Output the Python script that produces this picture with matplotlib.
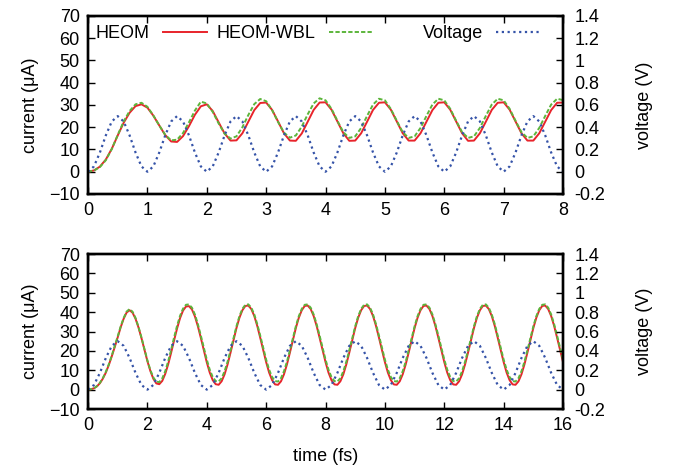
import numpy as np
import matplotlib
matplotlib.use("Agg")
import matplotlib.pyplot as plt
from matplotlib.lines import Line2D
from matplotlib.legend import Legend
from matplotlib.ticker import FuncFormatter

plt.rcParams['font.family'] = ['Liberation Sans', 'DejaVu Sans']
plt.rcParams['font.size'] = 13
FS = 13

# ---- upper panel: 0-8 fs, sampled every 0.1 fs ----
time_a = np.round(np.arange(81) * 0.1, 2)
heom_a = [0.0, 0.6, 2.3, 5.5, 10.3, 16.3, 22.0, 26.5, 29.5, 30.3,
          28.8, 25.2, 20.8, 16.5, 13.6, 13.4, 16.0, 20.5, 25.6, 29.4,
          30.3, 27.3, 22.2, 17.2, 14.0, 14.1, 17.3, 22.5, 27.7, 30.9,
          31.1, 27.8, 22.6, 17.3, 14.0, 13.9, 17.2, 22.5, 27.8, 31.1,
          31.2, 27.9, 22.6, 17.3, 13.9, 14.0, 17.3, 22.5, 27.8, 31.0,
          31.2, 27.9, 22.6, 17.3, 14.0, 14.0, 17.3, 22.5, 27.7, 31.0,
          31.2, 27.9, 22.6, 17.3, 13.9, 14.0, 17.3, 22.5, 27.8, 31.0,
          31.2, 27.9, 22.6, 17.3, 14.0, 14.0, 17.3, 22.5, 27.7, 31.0,
          31.1]
wbl_a = [0.0, 0.5, 2.1, 5.2, 10.2, 16.5, 22.6, 27.3, 30.3, 31.0,
         29.2, 25.3, 20.8, 16.6, 14.1, 14.4, 17.4, 22.2, 27.5, 31.5,
         30.7, 26.9, 21.7, 17.1, 14.9, 15.9, 20.0, 25.5, 30.4, 32.7,
         31.7, 27.7, 22.4, 17.6, 15.3, 16.3, 20.3, 25.8, 30.7, 33.0,
         32.1, 28.3, 22.9, 17.8, 15.2, 15.9, 19.7, 25.1, 30.2, 32.8,
         32.1, 28.2, 22.9, 17.8, 15.2, 15.9, 19.7, 25.1, 30.2, 32.8,
         32.1, 28.3, 22.9, 17.8, 15.2, 15.9, 19.7, 25.1, 30.2, 32.8,
         32.1, 28.3, 22.9, 17.8, 15.2, 15.9, 19.7, 25.1, 30.2, 32.8,
         32.2]
volt_a = [0.0, 0.048, 0.173, 0.327, 0.452, 0.5, 0.452, 0.327, 0.173, 0.048,
          0.0, 0.048, 0.173, 0.327, 0.452, 0.5, 0.452, 0.327, 0.173, 0.048,
          0.0, 0.048, 0.173, 0.327, 0.452, 0.5, 0.452, 0.327, 0.173, 0.048,
          0.0, 0.048, 0.173, 0.327, 0.452, 0.5, 0.452, 0.327, 0.173, 0.048,
          0.0, 0.048, 0.173, 0.327, 0.452, 0.5, 0.452, 0.327, 0.173, 0.048,
          0.0, 0.048, 0.173, 0.327, 0.452, 0.5, 0.452, 0.327, 0.173, 0.048,
          0.0, 0.048, 0.173, 0.327, 0.452, 0.5, 0.452, 0.327, 0.173, 0.048,
          0.0, 0.048, 0.173, 0.327, 0.452, 0.5, 0.452, 0.327, 0.173, 0.048,
          0.0]

# ---- lower panel: 0-16 fs, currents every 0.1 fs, voltage every 0.2 fs ----
time_b = np.round(np.arange(161) * 0.1, 2)
heom_b = [0.0, 0.2, 0.7, 1.7, 3.3, 5.7, 8.8, 12.7, 17.2, 22.0,
          27.0, 32.2, 36.6, 39.8, 41.0, 39.7, 36.6, 32.1, 26.6, 20.6,
          14.7, 9.6, 5.6, 3.2, 2.8, 4.5, 8.1, 13.1, 19.1, 25.5,
          31.6, 36.9, 40.8, 42.9, 43.1, 41.4, 37.8, 32.7, 26.7, 20.3,
          14.1, 8.8, 4.9, 2.8, 2.5, 4.3, 7.9, 13.0, 19.1, 25.5,
          31.8, 37.1, 41.0, 43.2, 43.4, 41.6, 38.0, 32.9, 26.8, 20.4,
          14.2, 8.8, 4.9, 2.7, 2.5, 4.3, 7.9, 13.0, 19.1, 25.5,
          31.8, 37.1, 41.0, 43.2, 43.4, 41.6, 38.0, 32.9, 26.8, 20.4,
          14.2, 8.8, 4.9, 2.7, 2.5, 4.3, 7.9, 13.0, 19.1, 25.5,
          31.8, 37.1, 41.0, 43.2, 43.4, 41.6, 38.0, 32.9, 26.8, 20.4,
          14.2, 8.8, 4.9, 2.7, 2.5, 4.3, 7.9, 13.0, 19.1, 25.5,
          31.8, 37.1, 41.0, 43.2, 43.4, 41.6, 38.0, 32.9, 26.8, 20.4,
          14.2, 8.8, 4.9, 2.7, 2.5, 4.3, 7.9, 13.0, 19.1, 25.5,
          31.8, 37.1, 41.0, 43.2, 43.4, 41.6, 38.0, 32.9, 26.8, 20.4,
          14.2, 8.8, 4.9, 2.7, 2.5, 4.3, 7.9, 13.0, 19.1, 25.5,
          31.8, 37.1, 41.0, 43.2, 43.4, 41.6, 38.0, 32.9, 26.8, 20.4,
          14.2]
wbl_b = [0.0, 0.2, 0.7, 1.8, 3.5, 6.0, 9.2, 13.1, 17.6, 22.5,
         27.5, 32.6, 37.0, 40.3, 41.6, 40.2, 37.0, 32.4, 26.9, 20.9,
         15.1, 10.1, 6.3, 4.1, 3.9, 5.8, 9.5, 14.6, 20.6, 27.0,
         33.0, 38.1, 41.8, 43.8, 44.0, 42.3, 38.8, 33.8, 27.9, 21.6,
         15.5, 10.3, 6.5, 4.4, 4.2, 5.9, 9.5, 14.4, 20.3, 26.6,
         32.7, 37.9, 41.7, 43.8, 44.0, 42.3, 38.8, 33.8, 27.9, 21.6,
         15.5, 10.3, 6.5, 4.4, 4.2, 5.9, 9.5, 14.4, 20.3, 26.6,
         32.7, 37.9, 41.7, 43.8, 44.0, 42.3, 38.8, 33.8, 27.9, 21.6,
         15.5, 10.3, 6.5, 4.4, 4.2, 5.9, 9.5, 14.4, 20.3, 26.6,
         32.7, 37.9, 41.7, 43.8, 44.0, 42.3, 38.8, 33.8, 27.9, 21.6,
         15.5, 10.3, 6.5, 4.4, 4.2, 5.9, 9.5, 14.4, 20.3, 26.6,
         32.7, 37.9, 41.7, 43.8, 44.0, 42.3, 38.8, 33.8, 27.9, 21.6,
         15.5, 10.3, 6.5, 4.4, 4.2, 5.9, 9.5, 14.4, 20.3, 26.6,
         32.7, 37.9, 41.7, 43.8, 44.0, 42.3, 38.8, 33.8, 27.9, 21.6,
         15.5, 10.3, 6.5, 4.4, 4.2, 5.9, 9.5, 14.4, 20.3, 26.6,
         32.7, 37.9, 41.7, 43.8, 44.0, 42.3, 38.8, 33.8, 27.9, 21.6,
         15.5]
time_b_volt = np.round(np.arange(81) * 0.2, 2)
volt_b = [0.0, 0.048, 0.173, 0.327, 0.452, 0.5, 0.452, 0.327, 0.173, 0.048,
          0.0, 0.048, 0.173, 0.327, 0.452, 0.5, 0.452, 0.327, 0.173, 0.048,
          0.0, 0.048, 0.173, 0.327, 0.452, 0.5, 0.452, 0.327, 0.173, 0.048,
          0.0, 0.048, 0.173, 0.327, 0.452, 0.5, 0.452, 0.327, 0.173, 0.048,
          0.0, 0.048, 0.173, 0.327, 0.452, 0.5, 0.452, 0.327, 0.173, 0.048,
          0.0, 0.048, 0.173, 0.327, 0.452, 0.5, 0.452, 0.327, 0.173, 0.048,
          0.0, 0.048, 0.173, 0.327, 0.452, 0.5, 0.452, 0.327, 0.173, 0.048,
          0.0, 0.048, 0.173, 0.327, 0.452, 0.5, 0.452, 0.327, 0.173, 0.048,
          0.0]

series_labels = ["HEOM", "HEOM-WBL", "Voltage"]

RED = "#e8242b"
GREEN = "#5cb53b"
BLUE = "#3553a8"
red_kw = dict(color=RED, lw=1.4, ls="-")
green_kw = dict(color=GREEN, lw=1.4, ls=(0, (2.2, 1.1)))
blue_kw = dict(color=BLUE, lw=1.6, ls=(0, (1.0, 1.6)))

fig = plt.figure(figsize=(6.73, 4.66), dpi=100)
ax_a = fig.add_axes([0.1308, 0.5837, 0.7058, 0.3820])
ax_b = fig.add_axes([0.1308, 0.1223, 0.7058, 0.3326])


def volt_fmt(v, _pos):
    if abs(v) < 1e-9:
        return "0"
    return f"{v:g}"


def draw_panel(ax, t_cur, heom, wbl, t_volt, volt, xmax, xstep):
    ax.plot(t_cur, heom, **red_kw)
    ax.plot(t_cur, wbl, **green_kw)
    axv = ax.twinx()
    axv.plot(t_volt, volt, **blue_kw)

    ax.set_xlim(0, xmax)
    ax.set_ylim(-10, 70)
    axv.set_ylim(-0.2, 1.4)
    ax.set_xticks(np.arange(0, xmax + 0.01, xstep))
    ax.set_yticks(np.arange(-10, 71, 10))
    axv.set_yticks(np.round(np.arange(-0.2, 1.41, 0.2), 1))
    axv.yaxis.set_major_formatter(FuncFormatter(volt_fmt))

    ax.tick_params(axis="x", direction="in", top=True, bottom=True,
                   length=5, width=1.0, pad=6, labelsize=FS)
    ax.tick_params(axis="y", direction="in", left=True, right=False,
                   length=5, width=1.0, pad=6, labelsize=FS)
    axv.tick_params(axis="y", direction="in", right=True, left=False,
                    length=5, width=1.0, pad=8, labelsize=FS)
    for a in (ax, axv):
        for sp in a.spines.values():
            sp.set_linewidth(1.7)

    ax.set_ylabel("current (μA)", fontsize=FS, va="center")
    ax.yaxis.set_label_coords(-0.122, 0.5)
    axv.set_ylabel("voltage (V)", fontsize=FS, va="center", rotation=90)
    axv.yaxis.set_label_coords(1.172, 0.5)
    return axv


draw_panel(ax_a, time_a, heom_a, wbl_a, time_a, volt_a, 8, 1)
draw_panel(ax_b, time_b, heom_b, wbl_b, time_b_volt, volt_b, 16, 2)

ax_b.set_xlabel("time (fs)", fontsize=FS, va="center")
ax_b.xaxis.set_label_coords(0.5, -0.305)

# key: title followed by its line sample, one block per series
key_handles = [Line2D([], [], **red_kw), Line2D([], [], **green_kw),
               Line2D([], [], **blue_kw)]
key_right = [0.2505, 0.600, 0.9516]
for h, lab, xr in zip(key_handles, series_labels, key_right):
    leg = Legend(ax_a, [h], [lab], loc="center right",
                 bbox_to_anchor=(xr, 0.90), bbox_transform=ax_a.transAxes,
                 frameon=False, markerfirst=False, handlelength=2.45,
                 handletextpad=0.72, borderpad=0, borderaxespad=0,
                 fontsize=FS)
    leg.set_zorder(10)
    ax_a.add_artist(leg)

fig.savefig("out.png", dpi=100)
